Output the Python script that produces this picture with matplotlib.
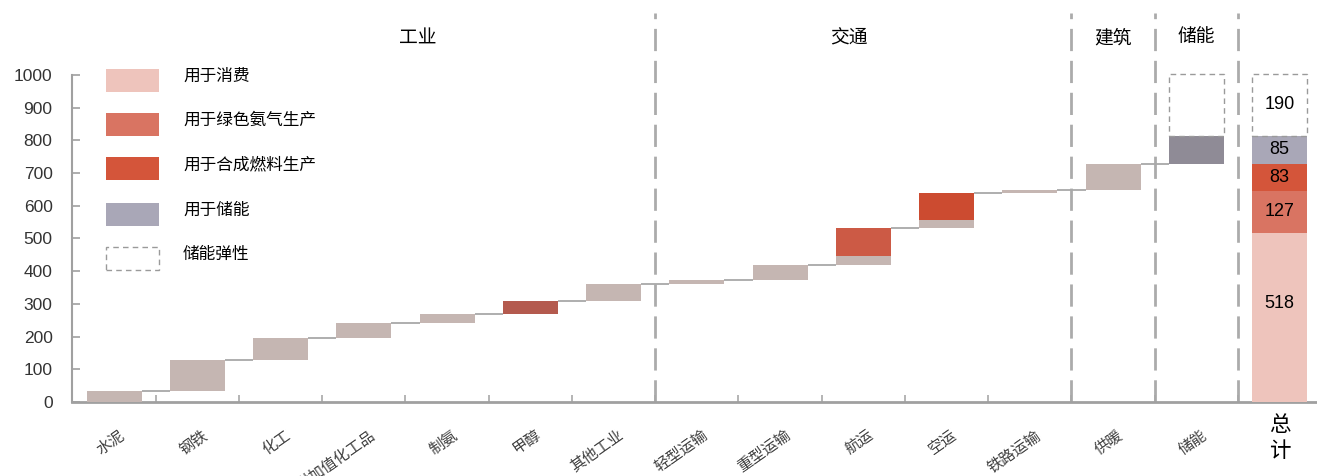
import matplotlib
matplotlib.use("Agg")
import matplotlib.pyplot as plt
from matplotlib.patches import Rectangle
import numpy as np

# 数字用 Liberation Sans，中文回退到 Noto Sans CJK
plt.rcParams['font.family'] = ['Liberation Sans', 'Noto Sans CJK SC', 'DejaVu Sans']

# 各部门用电（TWh），按用途拆分
categories = ['水泥', '钢铁', '化工', '高附加值化工品', '制氨', '甲醇', '其他工业',
              '轻型运输', '重型运输', '航运', '空运', '铁路运输', '供暖', '储能']
consume = [35, 92, 70, 43, 28, 0, 52, 12, 46, 27, 25, 8, 80, 0]
ammonia = [0, 0, 0, 0, 0, 40, 0, 0, 0, 87, 0, 0, 0, 0]
synfuel = [0, 0, 0, 0, 0, 0, 0, 0, 0, 0, 83, 0, 0, 0]
storage = [0, 0, 0, 0, 0, 0, 0, 0, 0, 0, 0, 0, 0, 85]
flex = [0, 0, 0, 0, 0, 0, 0, 0, 0, 0, 0, 0, 0, 190]
total_label = '总\n计'

sections = ['工业', '交通', '建筑', '储能']
section_pos = [3.65, 8.83, 12, 13]
section_breaks = [6.5, 11.5, 12.5, 13.5]

legend_labels = ['用于消费', '用于绿色氨气生产', '用于合成燃料生产', '用于储能', '储能弹性']

# 颜色：瀑布条与总计条略有不同
wf_colors = ['#C5B6B2', '#CC5A45', '#CC4B30', '#8F8B96']
tot_colors = ['#EEC4BC', '#D97462', '#D4553A', '#A9A7B7']
override = {'甲醇': '#B45A4E'}

W, H = 1317, 476
fig = plt.figure(figsize=(W / 100, H / 100), dpi=100)
ax = fig.add_axes([72 / W, 74 / H, 1 - 72 / W, 1 - 74 / H])
ax.set_xlim(-0.505, 14.45)
ax.set_ylim(0, 1229)

bw = 0.66
series = [consume, ammonia, synfuel, storage]
x = np.arange(len(categories))
base = 0.0
tops = []
for i, cat in enumerate(categories):
    b = base
    for k, s in enumerate(series):
        v = s[i]
        if v <= 0:
            continue
        c = override.get(cat, wf_colors[k]) if k > 0 else wf_colors[k]
        ax.bar(x[i], v, bw, bottom=b, color=c, linewidth=0, zorder=3)
        b += v
    if flex[i] > 0:
        ax.bar(x[i], flex[i], bw, bottom=b, facecolor='none', edgecolor='#9A9A9A',
               linewidth=1.0, linestyle=(0, (4, 3)), zorder=3)
    tops.append(b)
    base = b

# 阶梯连接线
for i in range(len(categories) - 1):
    ax.plot([x[i] + bw / 2, x[i + 1] - bw / 2], [tops[i], tops[i]],
            color='#A8A8A8', lw=1.3, zorder=2, solid_capstyle='butt')

# 总计堆叠条
tx = len(categories)
totals = [sum(consume), sum(ammonia), sum(synfuel), sum(storage)]
b = 0
for k, v in enumerate(totals):
    ax.bar(tx, v, bw, bottom=b, color=tot_colors[k], linewidth=0, zorder=3)
    ypos = b + v * (0.58 if k == 0 else 0.5)
    ax.text(tx, ypos, str(v), ha='center', va='center', fontsize=13,
            color='black', zorder=4)
    b += v
ftot = sum(flex)
ax.bar(tx, ftot, bw, bottom=b, facecolor='none', edgecolor='#9A9A9A',
       linewidth=1.0, linestyle=(0, (4, 3)), zorder=3)
ax.text(tx, b + ftot / 2, str(ftot), ha='center', va='center', fontsize=13,
        color='black', zorder=4)

# 分区虚线与标题
for xb in section_breaks:
    ax.plot([xb, xb], [0, 1190], color='#ABABAB', lw=2.0,
            linestyle=(0, (8, 3.5)), zorder=1, clip_on=False)
for name, xp in zip(sections, section_pos):
    ax.text(xp, 1110, name, ha='center', va='center', fontsize=13.5, color='black')

# 坐标轴
for s in ['top', 'right']:
    ax.spines[s].set_visible(False)
ax.spines['left'].set_bounds(0, 1000)
ax.spines['left'].set_color('#A0A0A0')
ax.spines['left'].set_linewidth(1.5)
ax.spines['bottom'].set_color('#A0A0A0')
ax.spines['bottom'].set_linewidth(2.0)
ax.set_yticks(range(0, 1001, 100))
ax.tick_params(axis='y', direction='in', length=6, width=1.2, color='#A0A0A0',
               pad=14, labelsize=12.5, labelcolor='#333333')
ax.set_xticks([])
ax.set_xticks(np.arange(0.5, 13.6, 1), minor=True)
ax.tick_params(axis='x', which='minor', direction='in', length=5, width=1.2,
               color='#A8A8A8')

# 类别标签（长标签在底部被截断）
for i, cat in enumerate(categories):
    ax.text(x[i] + 0.06, -80, cat, rotation=35, rotation_mode='anchor',
            ha='right', va='top', fontsize=11, color='#3F3F3F', clip_on=False)
ax.text(tx, -40, total_label, ha='center', va='top', fontsize=15.5,
        color='black', linespacing=1.3, clip_on=False)

# 图例
sw_y = [69, 113, 157, 203, 247]
for lab, y0, k in zip(legend_labels, sw_y, range(5)):
    if k < 4:
        r = Rectangle((106 / W, 1 - (y0 + 23) / H), 53 / W, 23 / H,
                      transform=fig.transFigure, facecolor=tot_colors[k],
                      edgecolor='none')
    else:
        r = Rectangle((106 / W, 1 - (y0 + 23) / H), 53 / W, 23 / H,
                      transform=fig.transFigure, facecolor='none',
                      edgecolor='#9A9A9A', linewidth=1.0, linestyle=(0, (4, 3)))
    fig.add_artist(r)
    fig.text(183 / W, 1 - (y0 + 7) / H, lab, ha='left', va='center',
             fontsize=12, color='black')

fig.savefig('out.png', dpi=100)
